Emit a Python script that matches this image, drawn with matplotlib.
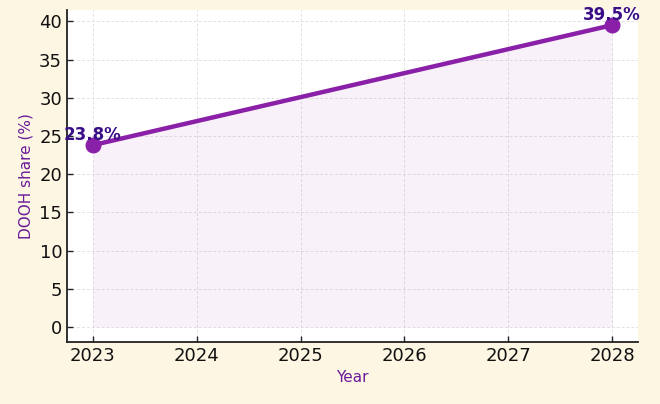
import matplotlib
matplotlib.use("Agg")
import matplotlib.pyplot as plt

years = [2023, 2028]
share = [23.8, 39.5]
xticks = [2023, 2024, 2025, 2026, 2027, 2028]
yticks = [0, 5, 10, 15, 20, 25, 30, 35, 40]

line_color = "#8A1FA8"
label_color = "#6A1B9A"
annot_color = "#3A0E86"

fig = plt.figure(figsize=(6.6, 4.04), dpi=100, facecolor="#FDF6E3")
ax = fig.add_axes([0.1015, 0.1535, 0.865, 0.8215])
ax.set_facecolor("white")

ax.fill_between(years, share, 0, color=line_color, alpha=0.06, linewidth=0)
ax.plot(years, share, color=line_color, linewidth=3.2, marker="o", markersize=10.5, zorder=3)

for x, y in zip(years, share):
    ax.annotate(f"{y}%", (x, y), textcoords="offset points", xytext=(0, 1),
                ha="center", va="bottom", fontsize=12, fontweight="bold", color=annot_color,
                zorder=4)

ax.set_xticks(xticks)
ax.set_xticklabels([str(t) for t in xticks])
ax.set_yticks(yticks)
ax.tick_params(axis="both", direction="in", labelsize=13, colors="#222222", labelcolor="#111111", length=4, width=1)
ax.set_xlabel("Year", color=label_color, fontsize=11)
ax.set_ylabel("DOOH share (%)", color=label_color, fontsize=11)
ax.grid(True, linestyle=(0, (3, 2)), color="#e2e2e2", linewidth=0.7)
ax.set_axisbelow(True)
for s in ["top", "right"]:
    ax.spines[s].set_visible(False)
for s in ["left", "bottom"]:
    ax.spines[s].set_color("#222222")
    ax.spines[s].set_linewidth(1.3)

ax.set_xlim(2022.75, 2028.25)
ax.set_ylim(-1.975, 41.475)

fig.savefig("out.png", dpi=100, facecolor=fig.get_facecolor())
